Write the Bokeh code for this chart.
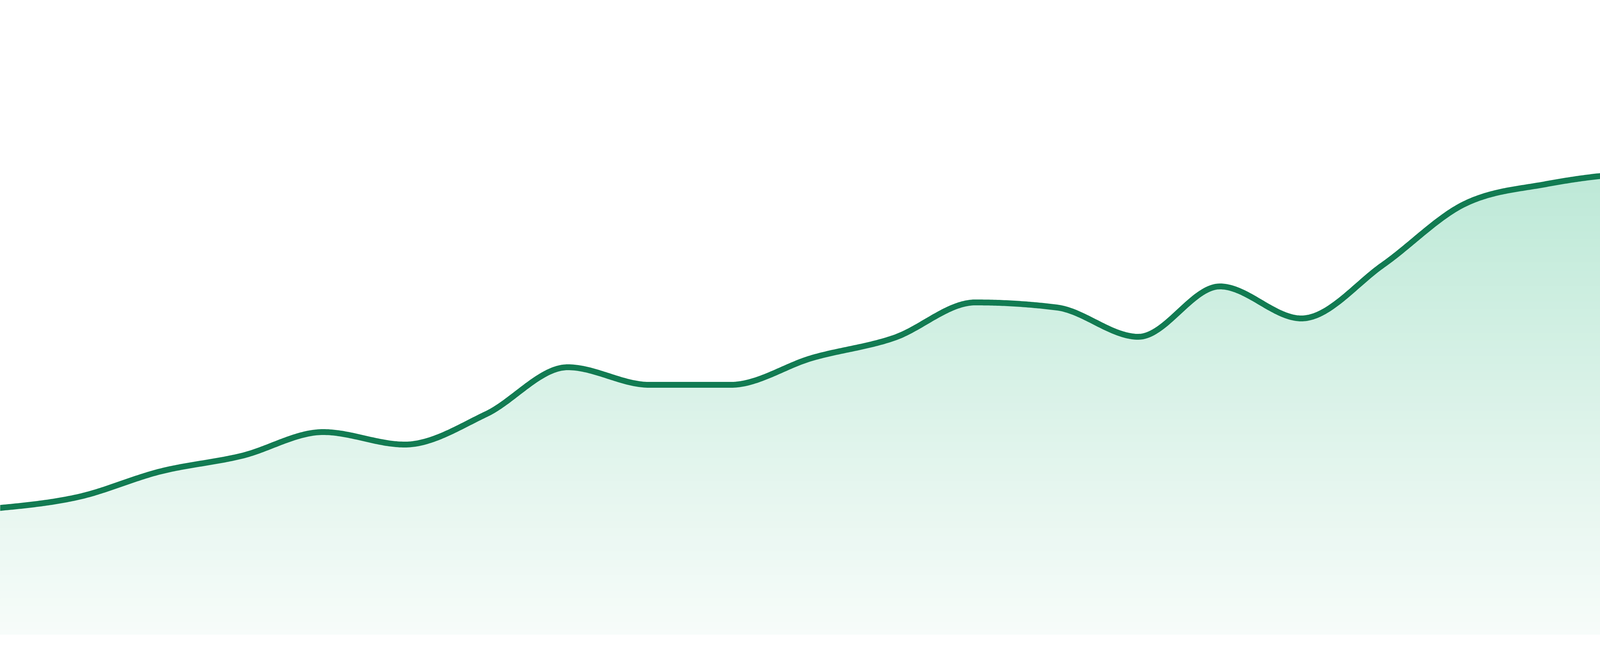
import numpy as np
from bokeh.plotting import figure
from bokeh.models import Range1d
from bokeh.embed import file_html
from bokeh.resources import INLINE

# ---- data ----
values = [32.3, 35.2, 41.7, 45.7, 51.8, 48.6, 56.4, 68.4, 63.9, 63.9, 70.8, 75.9,
          85.0, 83.7, 76.2, 89.1, 80.9, 94.6, 110.2, 115.3, 117.9, 118.4, 131.2, 143.2]
line_color = "#127b52"
fill_top = (177, 229, 208)
fill_bottom = (248, 252, 250)


def monotone_curve(x, y, n=48):
    x = np.asarray(x, float)
    y = np.asarray(y, float)
    h = np.diff(x)
    s = np.diff(y) / h
    m = np.zeros(len(x))
    for i in range(1, len(x) - 1):
        s0, s1 = s[i - 1], s[i]
        p = (s0 * h[i] + s1 * h[i - 1]) / (h[i - 1] + h[i])
        m[i] = (np.sign(s0) + np.sign(s1)) * min(abs(s0), abs(s1), 0.5 * abs(p))
    m[0] = (3 * s[0] - m[1]) / 2
    m[-1] = (3 * s[-1] - m[-2]) / 2
    xs, ys = [], []
    for i in range(len(x) - 1):
        t = np.linspace(0, 1, n, endpoint=(i == len(x) - 2))
        h00 = 2 * t**3 - 3 * t**2 + 1
        h10 = t**3 - 2 * t**2 + t
        h01 = -2 * t**3 + 3 * t**2
        h11 = t**3 - t**2
        xs.append(x[i] + t * h[i])
        ys.append(h00 * y[i] + h10 * h[i] * m[i] + h01 * y[i + 1] + h11 * h[i] * m[i + 1])
    return np.concatenate(xs), np.concatenate(ys)


idx = np.arange(len(values))
cx, cy = monotone_curve(idx, values)

W, H = 4784, 1664
px_per_x = 4800 / (len(values) - 1)
x0 = 8 / px_per_x
x1 = x0 + W / px_per_x

p = figure(width=W, height=H, x_range=Range1d(x0, x1), y_range=Range1d(-4, 162.4),
           output_backend="svg", toolbar_location=None, min_border=0)
p.axis.visible = False
p.grid.visible = False
p.outline_line_color = None
p.background_fill_color = "white"
p.border_fill_color = "white"

vmax = max(values)
step = 2.0
levels = np.arange(vmax + step, 0, -step)
for lv in levels:
    t = min(lv / vmax, 1.0)
    col = tuple(int(round(fill_bottom[k] + (fill_top[k] - fill_bottom[k]) * t)) for k in range(3))
    hexcol = "#%02x%02x%02x" % col
    p.varea(x=cx, y1=np.zeros_like(cy), y2=np.minimum(cy, lv), fill_color=hexcol, fill_alpha=1.0)

p.line(cx, cy, line_color=line_color, line_width=15, line_join="round", line_cap="round")

open("out.html", "w").write(file_html(p, INLINE))
